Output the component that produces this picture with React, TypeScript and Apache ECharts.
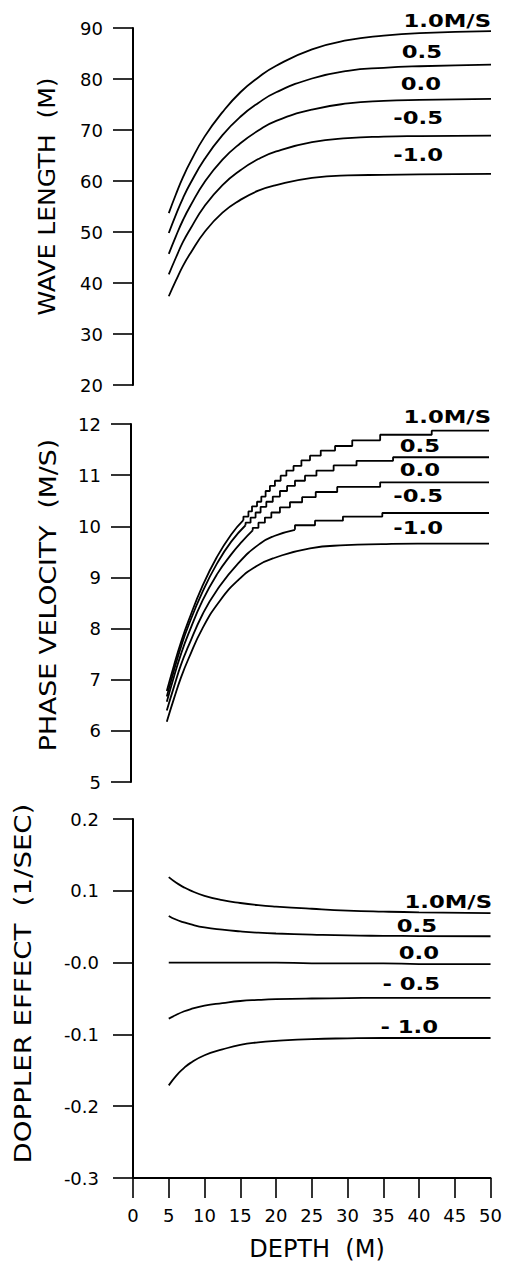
import React, { useEffect, useRef } from "react";
import * as echarts from "echarts";

// ---------- data ----------
const depths = [5, 6, 7, 8, 10, 12.5, 15, 17.5, 20, 25, 30, 35, 40, 50];

// Wave length (m) for currents +1.0, +0.5, 0.0, -0.5, -1.0 m/s
const waveP10 = [53.7, 57.4, 60.8, 63.7, 68.7, 73.5, 77.4, 80.3, 82.6, 85.8, 87.6, 88.5, 89.0, 89.4];
const waveP05 = [49.8, 53.4, 56.7, 59.5, 64.3, 69.0, 72.6, 75.3, 77.4, 80.1, 81.6, 82.2, 82.5, 82.8];
const wave000 = [45.7, 49.2, 52.4, 55.1, 59.8, 64.2, 67.4, 69.9, 71.8, 74.0, 75.2, 75.7, 75.9, 76.1];
const waveM05 = [41.7, 45.0, 48.1, 50.6, 55.1, 59.2, 62.1, 64.3, 65.8, 67.6, 68.4, 68.7, 68.8, 68.9];
const waveM10 = [37.4, 40.5, 43.4, 45.8, 50.0, 53.8, 56.3, 58.1, 59.2, 60.6, 61.1, 61.2, 61.3, 61.4];

// Phase velocity (m/s): smooth part then stepped part
const velP10Depths = [5, 6, 7, 8, 10, 12, 14, 15.7];
const velP10Values = [6.78, 7.28, 7.74, 8.14, 8.84, 9.4, 9.84, 10.12];
const velP10StepDepths = [15.7, 16.4, 16.9, 17.6, 18.2, 18.8, 19.4, 20.1, 20.9, 21.7, 22.7, 23.8, 25.0, 26.5, 28.5, 30.9, 34.8, 42.0];
const velP10StepLevels = [10.19, 10.29, 10.39, 10.48, 10.58, 10.69, 10.79, 10.89, 10.99, 11.09, 11.18, 11.29, 11.38, 11.48, 11.57, 11.68, 11.79, 11.87];

const velP05Depths = [5, 6, 7, 8, 10, 12, 14, 16.0];
const velP05Values = [6.67, 7.18, 7.65, 8.05, 8.72, 9.27, 9.7, 10.02];
const velP05StepDepths = [16.0, 16.7, 17.4, 18.1, 18.9, 19.8, 20.8, 21.8, 22.9, 24.3, 25.9, 28.3, 31.5, 36.6];
const velP05StepLevels = [10.07, 10.17, 10.27, 10.38, 10.48, 10.58, 10.69, 10.79, 10.89, 10.99, 11.09, 11.19, 11.28, 11.35];

const vel000Depths = [5, 6, 7, 8, 10, 12, 14, 15.5, 17.0];
const vel000Values = [6.57, 7.06, 7.51, 7.89, 8.55, 9.06, 9.45, 9.7, 9.92];
const vel000StepDepths = [17.0, 17.8, 18.7, 19.6, 20.8, 22.2, 23.9, 25.8, 28.8, 34.8];
const vel000StepLevels = [9.97, 10.07, 10.17, 10.27, 10.37, 10.47, 10.57, 10.67, 10.77, 10.86];

const velM05Depths = [5, 6, 7, 8, 10, 12, 15, 18, 20, 22.9];
const velM05Values = [6.4, 6.86, 7.3, 7.65, 8.28, 8.75, 9.28, 9.66, 9.81, 9.93];
const velM05StepDepths = [22.9, 25.7, 29.6, 35.1];
const velM05StepLevels = [10.02, 10.11, 10.19, 10.26];

const velM10Values = [6.18, 6.63, 7.05, 7.4, 8.01, 8.56, 8.95, 9.22, 9.38, 9.57, 9.63, 9.65, 9.66, 9.66];

// Doppler effect (1/sec)
const dopP10 = [0.119, 0.1115, 0.1055, 0.1005, 0.093, 0.087, 0.083, 0.08, 0.078, 0.075, 0.0725, 0.071, 0.07, 0.069];
const dopP05 = [0.065, 0.06, 0.0565, 0.0535, 0.049, 0.0458, 0.0435, 0.0417, 0.0405, 0.039, 0.0378, 0.0373, 0.037, 0.0367];
const dop000 = [0, 0, 0, 0, 0, 0, 0, 0, 0, -0.001, -0.001, -0.001, -0.002, -0.002];
const dopM05 = [-0.078, -0.073, -0.0685, -0.065, -0.06, -0.0565, -0.0535, -0.052, -0.051, -0.05, -0.0495, -0.049, -0.049, -0.049];
const dopM10 = [-0.171, -0.158, -0.148, -0.14, -0.129, -0.121, -0.1145, -0.111, -0.109, -0.1065, -0.1055, -0.105, -0.105, -0.105];

const curveLabels = ["1.0M/S", "0.5", "0.0", "-0.5", "-1.0"];
const dopplerLabels = ["1.0M/S", "0.5", "0.0", "- 0.5", "- 1.0"];
const axisTitles = ["WAVE LENGTH  (M)", "PHASE VELOCITY  (M/S)", "DOPPLER EFFECT  (1/SEC)"];
const xTitle = "DEPTH  (M)";
const depthMax = 50;

// ---------- helpers ----------
const pairs = (xs: number[], ys: number[]) => xs.map((x, i) => [x, ys[i]]);

const stepPairs = (startValue: number, ds: number[], ls: number[]) => {
  const out: number[][] = [];
  let prev = startValue;
  ds.forEach((d, i) => {
    out.push([d, prev]);
    out.push([d, ls[i]]);
    prev = ls[i];
  });
  out.push([depthMax, prev]);
  return out;
};

const FONT = '"DejaVu Sans", "Liberation Sans", sans-serif';

const lineSeries = (data: number[][], gi: number, smooth: boolean) => ({
  type: "line",
  xAxisIndex: gi,
  yAxisIndex: gi,
  data,
  smooth: smooth ? 0.5 : false,
  showSymbol: false,
  symbol: "none",
  silent: true,
  lineStyle: { color: "#000", width: 1.8 },
});

export default function App() {
  const ref = useRef<HTMLDivElement>(null);

  useEffect(() => {
    if (!ref.current) return;
    const chart = echarts.init(ref.current, undefined, { renderer: "svg" });

    const grids = [
      { left: 133, top: 28, width: 358, height: 357 },
      { left: 131, top: 424, width: 358, height: 358 },
      { left: 133, top: 819, width: 358, height: 359 },
    ];

    const axisLine = { show: true, onZero: false, lineStyle: { color: "#000", width: 2 } };
    const axisTick = { show: true, inside: false, length: 20, lineStyle: { color: "#000", width: 1.6 } };

    const xAxes = grids.map((_, i) => ({
      type: "value",
      gridIndex: i,
      min: 0,
      max: depthMax,
      interval: 5,
      show: i === 2,
      axisLine,
      axisTick,
      splitLine: { show: false },
      axisLabel: { show: i === 2, color: "#000", fontSize: 18, fontFamily: FONT, margin: 28 },
    }));

    const yRanges = [
      { min: 20, max: 90, interval: 10, margin: 30 },
      { min: 5, max: 12, interval: 1, margin: 30 },
      { min: -0.3, max: 0.2, interval: 0.1, margin: 34 },
    ];

    const yAxes = yRanges.map((r, i) => ({
      type: "value",
      gridIndex: i,
      min: r.min,
      max: r.max,
      interval: r.interval,
      axisLine,
      axisTick,
      splitLine: { show: false },
      axisLabel: {
        color: "#000",
        fontSize: 18,
        fontFamily: FONT,
        margin: r.margin,
        formatter:
          i === 2
            ? (v: number) => (Math.abs(v) < 1e-9 ? "-0.0" : v.toFixed(1))
            : (v: number) => String(Math.round(v)),
      },
    }));

    const series: any[] = [];
    [waveP10, waveP05, wave000, waveM05, waveM10].forEach((arr) =>
      series.push(lineSeries(pairs(depths, arr), 0, true))
    );

    const velSmooth = [
      [velP10Depths, velP10Values, velP10StepDepths, velP10StepLevels],
      [velP05Depths, velP05Values, velP05StepDepths, velP05StepLevels],
      [vel000Depths, vel000Values, vel000StepDepths, vel000StepLevels],
      [velM05Depths, velM05Values, velM05StepDepths, velM05StepLevels],
    ];
    velSmooth.forEach(([ds, vs, sd, sl]) => {
      series.push(lineSeries(pairs(ds, vs), 1, true));
      series.push(lineSeries(stepPairs(vs[vs.length - 1], sd, sl), 1, false));
    });
    series.push(lineSeries(pairs(depths, velM10Values), 1, true));

    [dopP10, dopP05, dop000, dopM05, dopM10].forEach((arr) =>
      series.push(lineSeries(pairs(depths, arr), 2, true))
    );

    const labelPos = [
      [[491, 21], [442, 51.5], [441, 83.5], [443, 117.5], [443, 155]],
      [[491, 416.5], [440, 446], [440, 469.5], [443, 495.5], [443, 528]],
      [[492, 901.5], [437, 925.5], [439, 953], [440, 983.5], [438, 1026.5]],
    ];

    const graphic: any[] = [];
    labelPos.forEach((panel, pi) => {
      panel.forEach(([x, y], li) => {
        graphic.push({
          type: "text",
          x,
          y,
          scaleX: 1.3,
          silent: true,
          style: {
            text: pi === 2 ? dopplerLabels[li] : curveLabels[li],
            fill: "#000",
            fontSize: 17.5,
            fontWeight: "bold",
            fontFamily: FONT,
            align: "right",
            verticalAlign: "middle",
            textAlign: "right",
            textVerticalAlign: "middle",
          },
        });
      });
    });

    const titlePos = [
      [47, 196.5, 1.09],
      [48, 595, 1.16],
      [23, 983.5, 1.2],
    ];
    titlePos.forEach(([x, y, s], i) => {
      graphic.push({
        type: "text",
        x,
        y,
        rotation: Math.PI / 2,
        scaleX: s,
        silent: true,
        style: {
          text: axisTitles[i],
          fill: "#000",
          fontSize: 23,
          fontFamily: FONT,
          align: "center",
          verticalAlign: "middle",
          textAlign: "center",
          textVerticalAlign: "middle",
        },
      });
    });
    graphic.push({
      type: "text",
      x: 317,
      y: 1249,
      silent: true,
      style: {
        text: xTitle,
        fill: "#000",
        fontSize: 24,
        fontFamily: FONT,
        align: "center",
        verticalAlign: "middle",
        textAlign: "center",
        textVerticalAlign: "middle",
      },
    });

    chart.setOption({
      animation: false,
      backgroundColor: "#fff",
      grid: grids,
      xAxis: xAxes,
      yAxis: yAxes,
      series,
      graphic,
    });

    return () => chart.dispose();
  }, []);

  return (
    <div
      ref={ref}
      style={{ position: "absolute", left: 0, top: 0, width: 505, height: 1264, background: "#fff" }}
    />
  );
}
